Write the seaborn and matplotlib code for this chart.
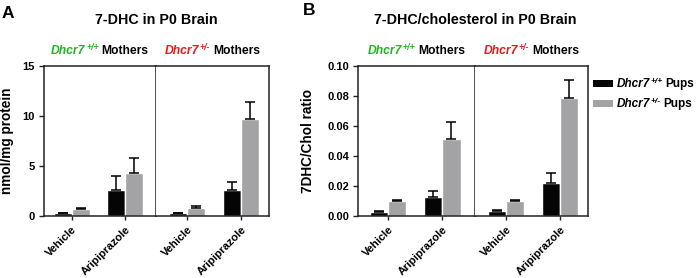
import matplotlib
matplotlib.use("Agg")
import numpy as np
import pandas as pd
import matplotlib.pyplot as plt
from matplotlib.patches import Rectangle
import seaborn as sns

# categories
treatments = ["Vehicle", "Aripiprazole"]
pup_genotypes = ["+/+", "+/-"]
mother_genotypes = ["+/+", "+/-"]

# values per mother group, order: Veh pup+/+, Veh pup+/-, Ari pup+/+, Ari pup+/-
dhc_wt_mothers_mean = [0.27, 0.72, 2.64, 4.35]
dhc_wt_mothers_sem = [0.06, 0.10, 1.33, 1.45]
dhc_het_mothers_mean = [0.27, 0.84, 2.60, 9.75]
dhc_het_mothers_sem = [0.06, 0.12, 0.80, 1.70]

ratio_wt_mothers_mean = [0.0029, 0.0099, 0.0128, 0.0513]
ratio_wt_mothers_sem = [0.0006, 0.0007, 0.0042, 0.0111]
ratio_het_mothers_mean = [0.0031, 0.0101, 0.0223, 0.0787]
ratio_het_mothers_sem = [0.0007, 0.0009, 0.0066, 0.0120]

GREEN = "#22b522"
RED = "#e41b1b"
BAR_COLORS = ["#050505", "#a3a3a6"]
FRAME = "#222222"

sns.set_style("white")
plt.rcParams["font.family"] = ["Liberation Sans", "DejaVu Sans"]
plt.rcParams["font.weight"] = "bold"
plt.rcParams["text.color"] = "black"
plt.rcParams["axes.labelcolor"] = "black"
plt.rcParams["xtick.color"] = "black"
plt.rcParams["ytick.color"] = "black"


def make_frame(mean, sem):
    rows = []
    k = 0
    for t in treatments:
        for p in pup_genotypes:
            rows.append({"treatment": t, "pups": p, "value": mean[k], "sem": sem[k]})
            k += 1
    return pd.DataFrame(rows)


def draw_half(ax, mean, sem, xlim):
    df = make_frame(mean, sem)
    sns.barplot(data=df, x="treatment", y="value", hue="pups", order=treatments,
                hue_order=pup_genotypes, palette=BAR_COLORS, width=0.67, gap=0,
                saturation=1, errorbar=None, legend=False, ax=ax)
    bar_containers = list(ax.containers)
    for i, cont in enumerate(bar_containers):
        for j, bar in enumerate(cont):
            err = df[(df.treatment == treatments[j]) & (df.pups == pup_genotypes[i])]["sem"].iloc[0]
            ax.errorbar(bar.get_x() + bar.get_width() / 2, bar.get_height(),
                        yerr=[[0], [err]], fmt="none", ecolor="black",
                        elinewidth=1.1, capsize=3.3, capthick=1.1, zorder=3)
    ax.set_xlim(*xlim)
    ax.set_xlabel("")
    ax.set_ylabel("")
    ax.set_xticks([0, 1])
    ax.set_xticklabels(treatments, rotation=45, ha="right", rotation_mode="anchor",
                       fontsize=8, fontweight="bold")
    ax.tick_params(axis="x", direction="out", length=3, width=1, color=FRAME, pad=3,
                   bottom=True)
    for s in ax.spines.values():
        s.set_color(FRAME)
        s.set_linewidth(1.1)


def rich_text(fig, renderer, cx, y_px, parts, gap_px=3):
    H = fig.bbox.height
    W = fig.bbox.width
    texts = []
    widths = []
    for s, color, style, size, rise in parts:
        t = fig.text(0, 1 - (y_px - rise) / H, s, color=color, style=style,
                     fontsize=size, fontweight="bold", ha="left", va="baseline")
        texts.append(t)
        widths.append(t.get_window_extent(renderer).width)
    gaps = [0] * len(parts)
    for k in range(1, len(parts)):
        gaps[k] = gap_px if parts[k][4] == 0 else 0.5
    total = sum(widths) + sum(gaps)
    x = cx - total / 2
    for t, w, g in zip(texts, widths, gaps):
        x += g
        t.set_x(x / W)
        x += w


fig = plt.figure(figsize=(7, 2.78), dpi=100)
FW, FH = 700, 278
bottom = 1 - 216 / FH
height = 150 / FH

axA1 = fig.add_axes([44 / FW, bottom, 112 / FW, height])
axA2 = fig.add_axes([156 / FW, bottom, 113 / FW, height])
axB1 = fig.add_axes([358 / FW, bottom, 117 / FW, height])
axB2 = fig.add_axes([475 / FW, bottom, 113 / FW, height])

draw_half(axA1, dhc_wt_mothers_mean, dhc_wt_mothers_sem, (-0.52, 1.58))
draw_half(axA2, dhc_het_mothers_mean, dhc_het_mothers_sem, (-0.57, 1.52))
draw_half(axB1, ratio_wt_mothers_mean, ratio_wt_mothers_sem, (-0.55, 1.6))
draw_half(axB2, ratio_het_mothers_mean, ratio_het_mothers_sem, (-0.57, 1.52))

for left, right, ylim, ticks, fmt, label, lx in [
    (axA1, axA2, (0, 15), [0, 5, 10, 15], "{:.0f}", "nmol/mg protein", -0.272),
    (axB1, axB2, (0, 0.10), [0, 0.02, 0.04, 0.06, 0.08, 0.10], "{:.2f}", "7DHC/Chol ratio", -0.367),
]:
    for ax in (left, right):
        ax.set_ylim(*ylim)
    left.set_yticks(ticks)
    left.set_yticklabels([fmt.format(v) for v in ticks], fontsize=8, fontweight="bold")
    left.tick_params(axis="y", direction="out", length=3.5, width=1, color=FRAME, pad=3,
                     left=True)
    left.set_ylabel(label, fontsize=9.8, fontweight="bold")
    left.yaxis.set_label_coords(lx, 0.5)
    right.set_yticks([])
    right.spines["left"].set_visible(False)

# titles and panel letters
fig.text(156 / FW, 1 - 20 / FH, "7-DHC in P0 Brain", ha="center", va="center",
         fontsize=10.3, fontweight="bold")
fig.text(475 / FW, 1 - 20 / FH, "7-DHC/cholesterol in P0 Brain", ha="center", va="center",
         fontsize=10.3, fontweight="bold")
fig.text(1.5 / FW, 1 - 18.5 / FH, "A", fontsize=12.5, fontweight="bold", ha="left", va="baseline")
fig.text(302.5 / FW, 1 - 15.3 / FH, "B", fontsize=12.5, fontweight="bold", ha="left", va="baseline")

renderer = fig.canvas.get_renderer()
subtitle_centers = [(100, 0), (212.5, 1), (416.5, 0), (531.5, 1)]
for cx, k in subtitle_centers:
    color = [GREEN, RED][k]
    rich_text(fig, renderer, cx, 54.3, [
        ("Dhcr7", color, "italic", 8.7, 0),
        (mother_genotypes[k], color, "italic", 6.3, 4.5),
        ("Mothers", "black", "normal", 8.7, 0),
    ])

# legend
for k, (y0, col) in enumerate([(80, BAR_COLORS[0]), (100, BAR_COLORS[1])]):
    fig.add_artist(Rectangle((593 / FW, 1 - (y0 + 7.3) / FH), 20 / FW, 7.3 / FH,
                             transform=fig.transFigure, color=col, lw=0))
    base = y0 + 7.3
    parts = [("Dhcr7", "black", "italic", 8.5, 0),
             (pup_genotypes[k], "black", "italic", 6.0, 4.5),
             ("Pups", "black", "normal", 8.5, 0)]
    x = 616.7
    for idx, (s, color, style, size, rise) in enumerate(parts):
        if idx == 1:
            x += 0.5
        if idx == 2:
            x += 3
        t = fig.text(x / FW, 1 - (base - rise) / FH, s, color=color, style=style,
                     fontsize=size, fontweight="bold", ha="left", va="baseline")
        x += t.get_window_extent(renderer).width

fig.savefig("out.png", dpi=100)
